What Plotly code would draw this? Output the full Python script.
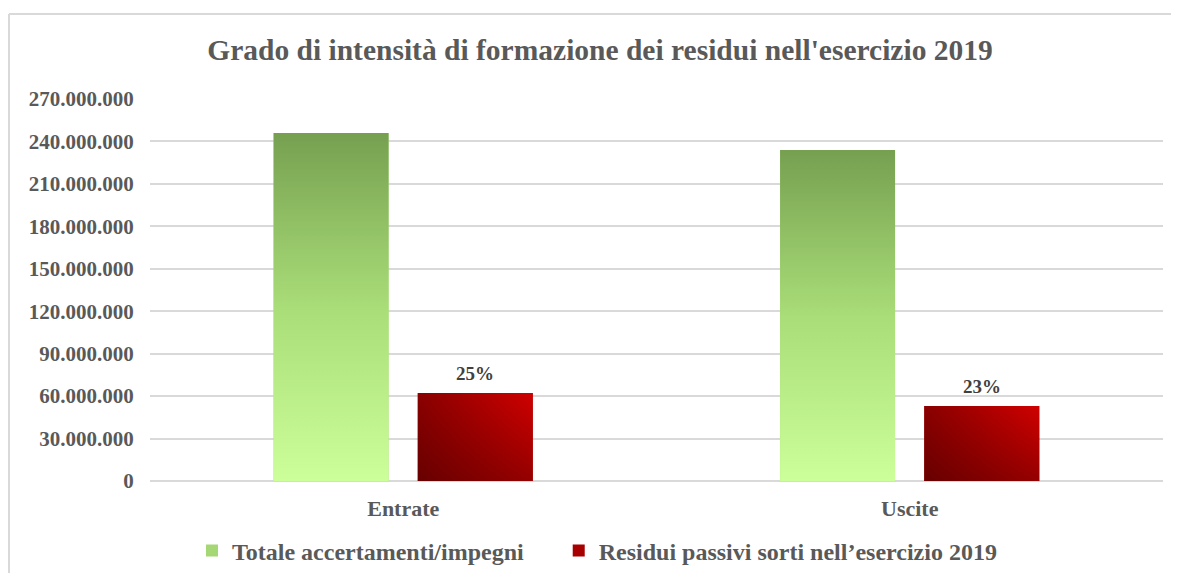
import plotly.graph_objects as go

categories = ["Entrate", "Uscite"]
totale = [246_000_000, 234_000_000]
residui = [62_200_000, 53_000_000]
series_names = ["Totale accertamenti/impegni", "Residui passivi sorti nell\u2019esercizio 2019"]
title_text = "Grado di intensità di formazione dei residui nell'esercizio 2019"
y_ticks = list(range(0, 270_000_001, 30_000_000))

FONT = "Liberation Serif"
GRAY = "#595959"
BAR_W = 0.227
OFF_G = -0.256
OFF_R = 0.0287

# page body has an 8px margin; keep the figure inside the window
W, H = 1163, 565
L, T, PW, PH = 142, 91, 1013, 382

xs = list(range(len(categories)))
fig = go.Figure()

fig.add_trace(go.Bar(x=xs, y=totale, name=series_names[0] + "\u00a0" * 5, width=BAR_W, offset=OFF_G,
                     marker=dict(color="#a6d775", line=dict(width=0)), hoverinfo="skip"))
fig.add_trace(go.Bar(x=xs, y=residui, name=series_names[1], width=BAR_W, offset=OFF_R,
                     marker=dict(color="#a80000", line=dict(width=0)), hoverinfo="skip"))

def rect(i, off, v):
    x0, x1 = i + off, i + off + BAR_W
    return [x0, x0, x1, x1, x0], [0, v, v, 0, 0]

for i, v in enumerate(totale):
    px, py = rect(i, OFF_G, v)
    fig.add_trace(go.Scatter(x=px, y=py, mode="lines", fill="toself", line=dict(width=0),
                             fillgradient=dict(type="vertical", start=0, stop=v,
                                               colorscale=[[0, "#ccff99"], [0.5, "#a9dd78"], [1, "#76a050"]]),
                             showlegend=False, hoverinfo="skip"))
for i, v in enumerate(residui):
    px, py = rect(i, OFF_R, v)
    fig.add_trace(go.Scatter(x=px, y=py, mode="lines", fill="toself", line=dict(width=0),
                             fillgradient=dict(type="horizontal", start=i + OFF_R, stop=i + OFF_R + BAR_W,
                                               colorscale=[[0, "#8a0000"], [1, "#d00000"]]),
                             showlegend=False, hoverinfo="skip"))
    fig.add_trace(go.Scatter(x=px, y=py, mode="lines", fill="toself", line=dict(width=0),
                             fillgradient=dict(type="vertical", start=0, stop=v,
                                               colorscale=[[0, "rgba(40,0,0,0.35)"], [1, "rgba(40,0,0,0)"]]),
                             showlegend=False, hoverinfo="skip"))
    fig.add_annotation(x=i + OFF_R + BAR_W / 2, y=v, text=f"{round(v / totale[i] * 100)}%",
                       showarrow=False, yshift=20, yanchor="middle",
                       font=dict(family=FONT, size=19, color="#404040", weight="bold"))

frame_top = (PH + T - 6) / PH
frame_left = (1 - L) / PW
fig.update_layout(
    width=W, height=H,
    margin=dict(l=L, r=W - L - PW, t=T, b=H - T - PH, autoexpand=False),
    paper_bgcolor="white", plot_bgcolor="white",
    separators=",.",
    title=dict(text=title_text, x=592 / W, xref="container", xanchor="center",
               y=1 - 42 / H, yref="container", yanchor="middle",
               font=dict(family=FONT, size=29.5, color=GRAY, weight="bold")),
    xaxis=dict(range=[-0.5, 1.5], tickvals=xs, ticktext=categories, showgrid=False, zeroline=False,
               ticks="outside", ticklen=8, tickcolor="rgba(0,0,0,0)", automargin=False,
               tickfont=dict(family=FONT, size=22, color=GRAY, weight="bold")),
    yaxis=dict(range=[0, 270_000_000], tickvals=y_ticks, tickformat=",d", automargin=False,
               gridcolor="#d9d9d9", gridwidth=1.5, zeroline=True, zerolinecolor="#d9d9d9", zerolinewidth=2,
               ticks="outside", ticklen=11, tickcolor="rgba(0,0,0,0)",
               tickfont=dict(family=FONT, size=21, color=GRAY, weight="bold")),
    legend=dict(orientation="h", x=(232 - 8 - 40) / W, xref="container", xanchor="left",
                y=1 - 543 / H, yref="container", yanchor="middle",
                font=dict(family=FONT, size=24, color=GRAY, weight="bold"),
                traceorder="normal"),
    showlegend=True,
    shapes=[
        dict(type="line", xref="paper", yref="paper", x0=frame_left, x1=1.2, y0=frame_top, y1=frame_top,
             line=dict(color="#d9d9d9", width=2), layer="below"),
        dict(type="line", xref="paper", yref="paper", x0=frame_left, x1=frame_left, y0=frame_top, y1=-0.6,
             line=dict(color="#d9d9d9", width=2), layer="below"),
    ],
)

fig.write_html("out.html")
